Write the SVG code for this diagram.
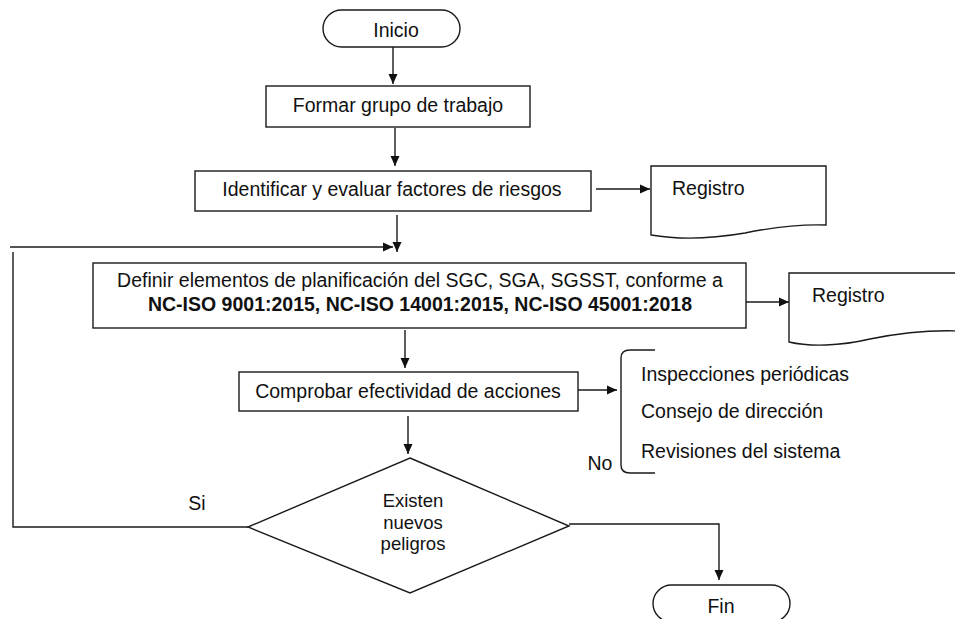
<svg xmlns="http://www.w3.org/2000/svg" width="955" height="619" viewBox="0 0 955 619">
<style>
.s{fill:#fff;stroke:#1a1a1a;stroke-width:1.4}
.c{fill:none;stroke:#1a1a1a;stroke-width:1.4}
text{font-family:"Liberation Sans",Arial,sans-serif;font-size:19.5px;fill:#111}
.m{text-anchor:middle}
.b{font-weight:bold}
.d{font-size:18.5px}
</style>
<defs>
<marker id="ah" markerUnits="userSpaceOnUse" markerWidth="11" markerHeight="10" refX="10" refY="5" orient="auto">
<path d="M0,0.5 L10,5 L0,9.5 z" fill="#111"/>
</marker>
</defs>
<rect width="955" height="619" fill="#fff"/>
<g id="connectors">
<line class="c" x1="393" y1="47" x2="393" y2="84" marker-end="url(#ah)"/>
<line class="c" x1="395" y1="128" x2="395" y2="166" marker-end="url(#ah)"/>
<line class="c" x1="596" y1="189" x2="650" y2="189" marker-end="url(#ah)"/>
<line class="c" x1="397" y1="215" x2="397" y2="252" marker-end="url(#ah)"/>
<line class="c" x1="10" y1="247" x2="393" y2="247" marker-end="url(#ah)"/>
<polyline class="c" points="13,252 13,527 248,527"/>
<line class="c" x1="746" y1="302" x2="789" y2="302" marker-end="url(#ah)"/>
<line class="c" x1="405" y1="330" x2="405" y2="368" marker-end="url(#ah)"/>
<line class="c" x1="578" y1="390" x2="617" y2="390" marker-end="url(#ah)"/>
<line class="c" x1="408" y1="416" x2="408" y2="454" marker-end="url(#ah)"/>
<polyline class="c" points="569,524 719,524 719,580" marker-end="url(#ah)"/>
<text x="197" y="510" class="m">Si</text>
<text x="600" y="470" class="m">No</text>
</g>
<g id="inicio">
<rect class="s" x="323" y="10" width="137" height="37" rx="18.5"/>
<text x="396" y="37" class="m">Inicio</text>
</g>
<g id="formar">
<rect class="s" x="266" y="86" width="264" height="41"/>
<text x="398" y="112" class="m">Formar grupo de trabajo</text>
</g>
<g id="identificar">
<rect class="s" x="195" y="171" width="396" height="40"/>
<text x="392" y="196" class="m">Identificar y evaluar factores de riesgos</text>
</g>
<g id="registro1">
<path class="s" d="M651,166 L826,166 L826,225 C800,224 770,228 745,233 C710,239 680,240 651,235 Z"/>
<text x="672" y="195">Registro</text>
</g>
<g id="definir">
<rect class="s" x="93" y="263" width="653" height="65"/>
<text x="420" y="287" class="m">Definir elementos de planificación del SGC, SGA, SGSST, conforme a</text>
<text x="420" y="311" class="m b">NC-ISO 9001:2015, NC-ISO 14001:2015, NC-ISO 45001:2018</text>
</g>
<g id="registro2">
<path class="s" d="M789,273 L958,273 L958,331 C930,330 900,333 870,339 C840,346 810,347 789,342 Z"/>
<text x="812" y="302">Registro</text>
</g>
<g id="comprobar">
<rect class="s" x="239" y="372" width="339" height="39"/>
<text x="408" y="398" class="m">Comprobar efectividad de acciones</text>
</g>
<g id="lista">
<path class="c" d="M655,350 L630,350 Q621,350 621,358 L621,465 Q621,473 630,473 L655,473"/>
<text x="641" y="381">Inspecciones periódicas</text>
<text x="641" y="418">Consejo de dirección</text>
<text x="641" y="458">Revisiones del sistema</text>
</g>
<g id="decision">
<polygon class="s" points="410,458 569,526 410,593 248,527"/>
<text x="413" y="507" class="m d">Existen</text>
<text x="413" y="529" class="m d">nuevos</text>
<text x="413" y="550" class="m d">peligros</text>
</g>
<g id="fin">
<rect class="s" x="653" y="585" width="137" height="37" rx="18.5"/>
<text x="721" y="613" class="m">Fin</text>
</g>
</svg>
